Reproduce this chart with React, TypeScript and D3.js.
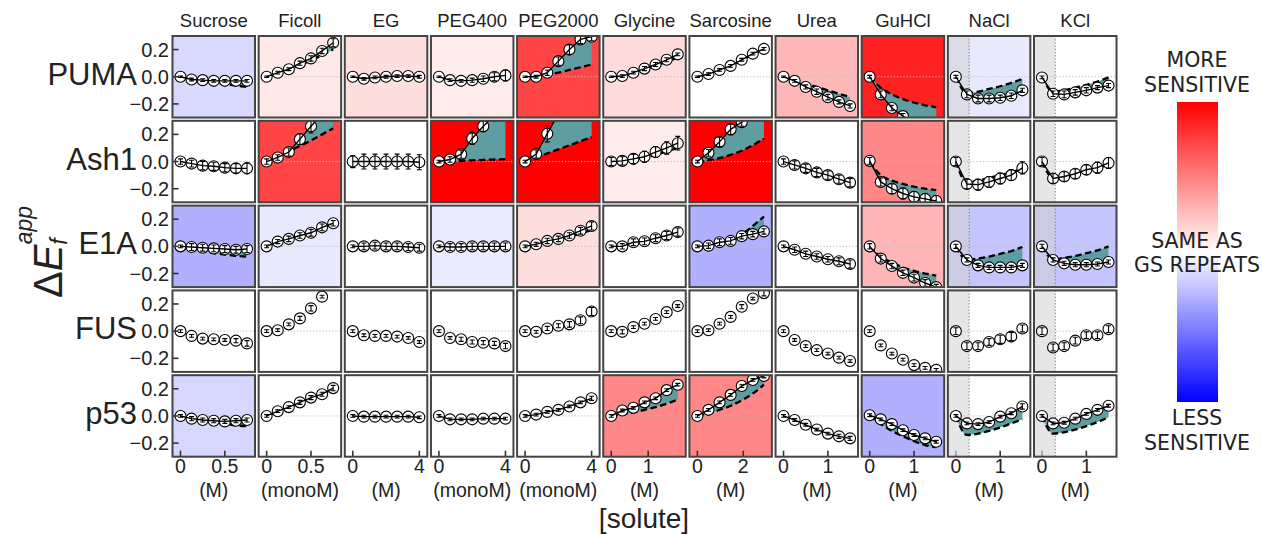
import React from 'react';
import * as d3 from 'd3';

// ---------- categories / ticks ----------
const solutes = ['Sucrose', 'Ficoll', 'EG', 'PEG400', 'PEG2000', 'Glycine', 'Sarcosine', 'Urea', 'GuHCl', 'NaCl', 'KCl'];
const units = ['(M)', '(monoM)', '(M)', '(monoM)', '(monoM)', '(M)', '(M)', '(M)', '(M)', '(M)', '(M)'];
const xMax = [0.75, 0.75, 4, 4, 4, 1.8, 2.9, 1.5, 1.5, 1.5, 1.5];
const xTicks = [[0, 0.5], [0, 0.5], [0, 4], [0, 4], [0, 4], [0, 1], [0, 2], [0, 1], [0, 1], [0, 1], [0, 1]];
const xTickLabels = [['0', '0.5'], ['0', '0.5'], ['0', '4'], ['0', '4'], ['0', '4'], ['0', '1'], ['0', '2'], ['0', '1'], ['0', '1'], ['0', '1'], ['0', '1']];
const proteins = ['PUMA', 'Ash1', 'E1A', 'FUS', 'p53'];
const yTicks = [-0.2, 0, 0.2];
const yTickLabels = ['\u22120.2', '0.0', '0.2'];
const saltCutoff = 0.3;
const saltColumns = ['NaCl', 'KCl'];

// ---------- sensitivity (background colour, bwr -1..1) ----------
const pumaSens = [-0.15, 0.09, 0.13, 0.07, 0.73, 0.14, 0, 0.28, 0.87, -0.09, 0];
const ash1Sens = [0, 0.73, 0, 1, 1, 0.07, 1, 0, 0.47, 0, 0];
const e1aSens = [-0.31, -0.09, 0, -0.08, 0.13, 0, -0.31, 0, 0.29, -0.23, -0.23];
const fusSens = [0, 0, 0, 0, 0, 0, 0, 0, 0, 0, 0];
const p53Sens = [-0.16, 0, 0, 0, 0, 0.47, 0.47, 0, -0.31, 0, 0];

// ---------- observed ΔE ----------
const pumaObs = [
  [0, -0.02, -0.025, -0.03, -0.03, -0.03, -0.03],
  [0, 0.03, 0.055, 0.1, 0.135, 0.19, 0.25],
  [0, -0.015, -0.005, 0, 0.005, 0.005, 0],
  [0, -0.025, -0.03, -0.025, -0.015, 0, 0.01],
  [0, 0, 0.03, 0.115, 0.2, 0.275, 0.295],
  [0, 0.005, 0.03, 0.06, 0.09, 0.125, 0.165],
  [0, 0.02, 0.05, 0.08, 0.125, 0.17, 0.205],
  [0, -0.03, -0.075, -0.11, -0.15, -0.185, -0.215],
  [0, -0.13, -0.23, -0.29, -0.35, -0.4, -0.45],
  [0, -0.13, -0.16, -0.16, -0.155, -0.14, -0.1],
  [-0.005, -0.125, -0.13, -0.115, -0.1, -0.08, -0.065],
];
const ash1Obs = [
  [0, -0.015, -0.03, -0.035, -0.045, -0.05, -0.05],
  [0, 0.03, 0.07, 0.165, 0.26, 0.35, 0.42],
  [0, 0, 0, 0, 0, 0, -0.005],
  [0, 0.015, 0.054, 0.17, 0.26, 0.34, 0.4],
  [0, 0.055, 0.205, 0.35, 0.45, 0.5, 0.55],
  [0, 0.005, 0.02, 0.035, 0.07, 0.1, 0.135],
  [0, 0.064, 0.145, 0.237, 0.29, 0.35, 0.4],
  [0, -0.025, -0.05, -0.08, -0.1, -0.13, -0.155],
  [0.005, -0.15, -0.2, -0.235, -0.26, -0.275, -0.29],
  [0, -0.165, -0.17, -0.15, -0.125, -0.1, -0.047],
  [0, -0.125, -0.11, -0.09, -0.06, -0.045, -0.01],
];
const e1aObs = [
  [0, -0.005, -0.01, -0.015, -0.02, -0.025, -0.02],
  [0, 0.035, 0.055, 0.08, 0.1, 0.14, 0.17],
  [0, 0, 0.005, 0, 0, -0.005, -0.01],
  [0, -0.005, -0.005, 0, 0, 0, 0],
  [0, 0.015, 0.04, 0.055, 0.08, 0.115, 0.15],
  [0, 0, 0.03, 0.037, 0.06, 0.08, 0.105],
  [0, 0.005, 0.03, 0.04, 0.075, 0.09, 0.11],
  [0, -0.025, -0.055, -0.075, -0.095, -0.11, -0.13],
  [0, -0.09, -0.145, -0.195, -0.23, -0.27, -0.3],
  [0, -0.1, -0.14, -0.155, -0.155, -0.155, -0.14],
  [0, -0.1, -0.125, -0.135, -0.135, -0.13, -0.115],
];
const fusObs = [
  [0, -0.035, -0.055, -0.06, -0.065, -0.07, -0.09],
  [0, 0.007, 0.05, 0.094, 0.168, 0.254, 0.36],
  [0, -0.03, -0.035, -0.035, -0.04, -0.05, -0.08],
  [0, -0.05, -0.06, -0.08, -0.085, -0.09, -0.11],
  [0, -0.005, 0.02, 0.04, 0.05, 0.08, 0.145],
  [0, -0.005, 0.03, 0.055, 0.09, 0.14, 0.185],
  [0, 0.007, 0.055, 0.105, 0.18, 0.24, 0.28],
  [0, -0.065, -0.11, -0.14, -0.165, -0.195, -0.22],
  [0, -0.105, -0.165, -0.21, -0.25, -0.27, -0.285],
  [0, -0.11, -0.11, -0.08, -0.06, -0.04, 0.02],
  [0, -0.12, -0.11, -0.07, -0.03, -0.03, 0.015],
];
const p53Obs = [
  [0, -0.02, -0.03, -0.035, -0.04, -0.035, -0.03],
  [0, 0.035, 0.065, 0.1, 0.135, 0.16, 0.205],
  [0, -0.005, -0.005, -0.005, -0.005, -0.005, -0.01],
  [0, -0.025, -0.025, -0.025, -0.02, -0.02, -0.02],
  [0, 0.01, 0.03, 0.045, 0.07, 0.1, 0.13],
  [0, 0.04, 0.06, 0.1, 0.13, 0.19, 0.23],
  [0, 0.045, 0.1, 0.155, 0.22, 0.265, 0.295],
  [0, -0.03, -0.065, -0.1, -0.13, -0.15, -0.165],
  [0.005, -0.025, -0.06, -0.105, -0.14, -0.165, -0.19],
  [0, -0.055, -0.06, -0.045, -0.005, 0.02, 0.07],
  [0, -0.055, -0.05, -0.02, 0.015, 0.045, 0.075],
];

// ---------- reference (GS repeats, dashed) ----------
const pumaRef = [
  [0, -0.015, -0.03, -0.045, -0.055, -0.065, -0.075],
  [0, 0.025, 0.05, 0.085, 0.12, 0.16, 0.2],
  [0, -0.005, -0.005, 0, 0, -0.005, -0.01],
  [0, -0.02, -0.025, -0.02, -0.01, 0, 0.005],
  [0, 0.005, 0.015, 0.03, 0.05, 0.07, 0.09],
  [0, 0.01, 0.025, 0.05, 0.08, 0.11, 0.14],
  [0, 0.02, 0.05, 0.08, 0.12, 0.165, 0.2],
  [0, -0.025, -0.05, -0.075, -0.1, -0.125, -0.15],
  [0, -0.08, -0.13, -0.165, -0.19, -0.21, -0.225],
  [0, -0.12, -0.11, -0.09, -0.07, -0.045, -0.015],
  [0, -0.11, -0.1, -0.08, -0.06, -0.035, -0.005],
];
const ash1Ref = [
  [0, -0.015, -0.025, -0.035, -0.045, -0.05, -0.055],
  [0, 0.035, 0.075, 0.115, 0.155, 0.2, 0.245],
  [0, 0, 0, 0, 0, 0, 0],
  [0, 0.003, 0.006, 0.009, 0.012, 0.015, 0.018],
  [0, 0.03, 0.06, 0.09, 0.12, 0.15, 0.18],
  [0, 0.005, 0.015, 0.03, 0.05, 0.075, 0.1],
  [0, 0.01, 0.025, 0.05, 0.08, 0.12, 0.17],
  [0, -0.025, -0.05, -0.075, -0.1, -0.125, -0.15],
  [0, -0.1, -0.14, -0.165, -0.185, -0.2, -0.21],
  [0, -0.155, -0.14, -0.12, -0.1, -0.08, -0.05],
  [0, -0.12, -0.1, -0.085, -0.065, -0.045, -0.025],
];
const e1aRef = [
  [0, -0.02, -0.035, -0.05, -0.06, -0.07, -0.075],
  [0, 0.03, 0.05, 0.075, 0.1, 0.135, 0.165],
  [0, 0, 0.005, 0, 0, -0.005, -0.01],
  [0, -0.005, -0.005, 0, 0, 0, 0],
  [0, 0.012, 0.03, 0.05, 0.07, 0.095, 0.12],
  [0, 0.01, 0.025, 0.04, 0.06, 0.08, 0.1],
  [0, 0.01, 0.025, 0.05, 0.09, 0.15, 0.22],
  [0, -0.025, -0.05, -0.075, -0.095, -0.115, -0.13],
  [0, -0.075, -0.12, -0.155, -0.18, -0.2, -0.215],
  [0, -0.1, -0.09, -0.075, -0.055, -0.035, -0.005],
  [0, -0.095, -0.085, -0.07, -0.05, -0.03, 0],
];
const p53Ref = [
  [0, -0.02, -0.035, -0.05, -0.06, -0.07, -0.075],
  [0, 0.03, 0.06, 0.095, 0.13, 0.16, 0.2],
  [0, -0.005, -0.005, -0.005, -0.005, -0.005, -0.01],
  [0, -0.02, -0.025, -0.025, -0.02, -0.02, -0.02],
  [0, 0.01, 0.025, 0.045, 0.065, 0.09, 0.12],
  [0, 0.01, 0.025, 0.045, 0.065, 0.09, 0.12],
  [0, 0.02, 0.045, 0.075, 0.115, 0.165, 0.23],
  [0, -0.03, -0.065, -0.1, -0.125, -0.145, -0.16],
  [0, -0.06, -0.11, -0.15, -0.185, -0.215, -0.23],
  [0, -0.14, -0.13, -0.11, -0.085, -0.055, -0.025],
  [0, -0.13, -0.12, -0.1, -0.075, -0.045, -0.01],
];

// ---------- error bars (half widths) ----------
const pumaErr = [
  [0.005, 0.01, 0.01, 0.01, 0.01, 0.01, 0.01],
  [0.005, 0.01, 0.01, 0.015, 0.02, 0.02, 0.03],
  [0.005, 0.01, 0.01, 0.01, 0.01, 0.01, 0.01],
  [0.005, 0.01, 0.01, 0.015, 0.02, 0.03, 0.04],
  [0.005, 0.01, 0.02, 0.03, 0.035, 0.03, 0.03],
  [0.005, 0.01, 0.01, 0.015, 0.015, 0.015, 0.01],
  [0.005, 0.01, 0.01, 0.01, 0.01, 0.01, 0.01],
  [0.005, 0.01, 0.015, 0.02, 0.02, 0.015, 0.015],
  [0.01, 0.025, 0.02, 0.02, 0.02, 0.02, 0.02],
  [0.01, 0.025, 0.025, 0.025, 0.02, 0.02, 0.015],
  [0.01, 0.02, 0.025, 0.02, 0.02, 0.015, 0.015],
];
const ash1Err = [
  [0.02, 0.025, 0.03, 0.03, 0.03, 0.035, 0.04],
  [0.02, 0.02, 0.03, 0.04, 0.05, 0.05, 0.05],
  [0.045, 0.055, 0.055, 0.055, 0.055, 0.055, 0.055],
  [0.01, 0.02, 0.03, 0.045, 0.04, 0.04, 0.04],
  [0.01, 0.03, 0.06, 0.05, 0.05, 0.05, 0.05],
  [0.03, 0.03, 0.035, 0.04, 0.04, 0.045, 0.05],
  [0.01, 0.025, 0.035, 0.04, 0.03, 0.03, 0.03],
  [0.02, 0.03, 0.03, 0.03, 0.03, 0.03, 0.03],
  [0.025, 0.03, 0.035, 0.04, 0.04, 0.04, 0.04],
  [0.03, 0.035, 0.04, 0.04, 0.04, 0.04, 0.045],
  [0.03, 0.035, 0.035, 0.035, 0.035, 0.04, 0.04],
];
const e1aErr = [
  [0.01, 0.025, 0.025, 0.025, 0.025, 0.025, 0.025],
  [0.01, 0.015, 0.02, 0.02, 0.025, 0.025, 0.02],
  [0.01, 0.025, 0.025, 0.025, 0.025, 0.025, 0.025],
  [0.01, 0.025, 0.025, 0.025, 0.025, 0.025, 0.025],
  [0.01, 0.015, 0.02, 0.02, 0.02, 0.025, 0.03],
  [0.01, 0.02, 0.025, 0.025, 0.025, 0.03, 0.03],
  [0.01, 0.02, 0.025, 0.025, 0.02, 0.02, 0.02],
  [0.01, 0.02, 0.02, 0.02, 0.02, 0.025, 0.03],
  [0.02, 0.025, 0.02, 0.02, 0.025, 0.025, 0.02],
  [0.015, 0.015, 0.015, 0.015, 0.015, 0.015, 0.015],
  [0.015, 0.015, 0.015, 0.015, 0.015, 0.015, 0.015],
];
const fusErr = [
  [0.01, 0.01, 0.01, 0.01, 0.01, 0.015, 0.02],
  [0.01, 0.01, 0.01, 0.015, 0.02, 0.01, 0.01],
  [0.01, 0.01, 0.01, 0.01, 0.01, 0.01, 0.01],
  [0.01, 0.01, 0.015, 0.015, 0.015, 0.015, 0.02],
  [0.01, 0.01, 0.015, 0.015, 0.02, 0.025, 0.03],
  [0.01, 0.015, 0.01, 0.01, 0.01, 0.01, 0.01],
  [0.01, 0.01, 0.01, 0.01, 0.015, 0.01, 0.02],
  [0.01, 0.01, 0.01, 0.01, 0.01, 0.01, 0.01],
  [0.01, 0.01, 0.01, 0.01, 0.01, 0.01, 0.01],
  [0.025, 0.025, 0.025, 0.025, 0.03, 0.03, 0.025],
  [0.025, 0.025, 0.025, 0.025, 0.025, 0.025, 0.025],
];
const p53Err = [
  [0.01, 0.015, 0.015, 0.015, 0.015, 0.015, 0.015],
  [0.01, 0.01, 0.01, 0.015, 0.015, 0.015, 0.02],
  [0.01, 0.01, 0.01, 0.01, 0.01, 0.01, 0.01],
  [0.01, 0.01, 0.01, 0.01, 0.01, 0.01, 0.01],
  [0.01, 0.01, 0.01, 0.01, 0.01, 0.01, 0.015],
  [0.01, 0.01, 0.01, 0.01, 0.01, 0.01, 0.01],
  [0.01, 0.01, 0.01, 0.01, 0.01, 0.01, 0.015],
  [0.01, 0.01, 0.01, 0.01, 0.01, 0.015, 0.015],
  [0.01, 0.01, 0.01, 0.01, 0.01, 0.01, 0.01],
  [0.01, 0.01, 0.01, 0.01, 0.01, 0.01, 0.02],
  [0.01, 0.01, 0.01, 0.01, 0.01, 0.01, 0.01],
];

const sensRows = [pumaSens, ash1Sens, e1aSens, fusSens, p53Sens];
const obsRows = [pumaObs, ash1Obs, e1aObs, fusObs, p53Obs];
const refRows: (number[][] | null)[] = [pumaRef, ash1Ref, e1aRef, null, p53Ref];
const errRows = [pumaErr, ash1Err, e1aErr, fusErr, p53Err];

// ---------- layout ----------
const W = 1262;
const H = 535;
const COL0 = 172.5;
const COLSTEP = 86.15;
const PW = 82.5;
const ROW0 = 36;
const ROWSTEP = 84.8;
const PH = 81.5;
const FONT = "'Liberation Sans', Arial, sans-serif";
const TEAL = '#5f9ea0';

const bwr = (v: number) =>
  v >= 0 ? d3.interpolateRgb('#ffffff', '#ff0000')(v) : d3.interpolateRgb('#ffffff', '#0000ff')(-v);

function Panel({ r, c }: { r: number; c: number }) {
  const x0 = COL0 + c * COLSTEP;
  const y0 = ROW0 + r * ROWSTEP;
  const xm = xMax[c];
  const xs = d3.scaleLinear().domain([-0.12 * xm, 1.12 * xm]).range([x0, x0 + PW]);
  const ys = d3.scaleLinear().domain([-0.3, 0.3]).range([y0 + PH, y0]);
  const xv = d3.range(7).map((i) => (i * xm) / 6);
  const obs = obsRows[r][c];
  const refSet = refRows[r];
  const ref = refSet ? refSet[c] : null;
  const err = errRows[r][c];
  const isSalt = saltColumns.includes(solutes[c]);
  const clipId = `clip-${r}-${c}`;

  const obsLine = d3
    .line<number>()
    .x((_, i) => xs(xv[i]))
    .y((d) => ys(d))(obs) as string;
  const refLine = ref
    ? (d3
        .line<number>()
        .x((_, i) => xs(xv[i]))
        .y((d) => ys(d))
        .curve(d3.curveMonotoneX)(ref) as string)
    : null;
  const fill = ref
    ? (d3
        .area<number>()
        .x((_, i) => xs(xv[i]))
        .y0((_, i) => ys(ref[i]))
        .y1((d) => ys(d))
        .curve(d3.curveMonotoneX)(obs) as string)
    : null;

  return (
    <g>
      <defs>
        <clipPath id={clipId}>
          <rect x={x0} y={y0} width={PW} height={PH} />
        </clipPath>
      </defs>
      <g clipPath={`url(#${clipId})`}>
        <rect x={x0} y={y0} width={PW} height={PH} fill={bwr(sensRows[r][c])} />
        {isSalt && (
          <rect
            x={x0}
            y={y0}
            width={xs(saltCutoff) - x0}
            height={PH}
            fill="#d2d2d2"
            fillOpacity={0.55}
          />
        )}
        <line x1={x0} x2={x0 + PW} y1={ys(0)} y2={ys(0)} stroke="#bdbdbd" strokeWidth={1} strokeDasharray="1.2,2" />
        {isSalt && (
          <line
            x1={xs(saltCutoff)}
            x2={xs(saltCutoff)}
            y1={y0}
            y2={y0 + PH}
            stroke="#777"
            strokeWidth={1}
            strokeDasharray="1.2,2"
          />
        )}
        {fill && <path d={fill} fill={TEAL} />}
        {refLine && (
          <path d={refLine} fill="none" stroke="#000" strokeWidth={2.3} strokeDasharray="6.5,3.5" />
        )}
        {obs.map((v, i) => (
          <circle key={i} cx={xs(xv[i])} cy={ys(v)} r={5.5} fill="#fff" stroke="#000" strokeWidth={1.1} />
        ))}
        {ref && <path d={obsLine} fill="none" stroke="#000" strokeWidth={1.4} />}
        {obs.map((v, i) => {
          const cx = xs(xv[i]);
          const a = ys(v - err[i]);
          const b = ys(v + err[i]);
          return (
            <g key={'e' + i} stroke="#000" strokeWidth={1.1}>
              <line x1={cx} x2={cx} y1={a} y2={b} />
              <line x1={cx - 2.5} x2={cx + 2.5} y1={a} y2={a} />
              <line x1={cx - 2.5} x2={cx + 2.5} y1={b} y2={b} />
            </g>
          );
        })}
      </g>
      {c === 0 &&
        yTicks.map((t) => (
          <line key={'yt' + t} x1={x0} x2={x0 + 6} y1={ys(t)} y2={ys(t)} stroke="#333" strokeWidth={1.6} />
        ))}
      {r === proteins.length - 1 &&
        xTicks[c].map((t) => (
          <line
            key={'xt' + t}
            x1={xs(t)}
            x2={xs(t)}
            y1={y0 + PH}
            y2={y0 + PH - 6}
            stroke={isSalt && t < saltCutoff ? '#999' : '#333'}
            strokeWidth={1.6}
          />
        ))}
      <rect x={x0} y={y0} width={PW} height={PH} fill="none" stroke="#444" strokeWidth={2} />
    </g>
  );
}

export default function App() {
  const cbX = 1177;
  const cbY = 102;
  const cbW = 41;
  const cbH = 300;
  const cbCx = 1197;
  return (
    <svg
      width={W}
      height={H}
      viewBox={`0 0 ${W} ${H}`}
      style={{ position: 'absolute', left: 0, top: 0, background: '#fff' }}
      fontFamily={FONT}
    >
      <defs>
        <linearGradient id="bwr" x1="0" y1="0" x2="0" y2="1">
          {d3.range(0, 1.0001, 0.05).map((t) => (
            <stop key={t} offset={`${t * 100}%`} stopColor={bwr(1 - 2 * t)} />
          ))}
        </linearGradient>
      </defs>
      <rect x={0} y={0} width={W} height={H} fill="#fff" />

      {proteins.map((p, r) => solutes.map((s, c) => <Panel key={p + s} r={r} c={c} />))}

      {/* column titles */}
      {solutes.map((s, c) => (
        <text key={s} x={COL0 + c * COLSTEP + PW / 2} y={27} textAnchor="middle" fontSize={18.5} fill="#222">
          {s}
        </text>
      ))}

      {/* row labels + y tick labels */}
      {proteins.map((p, r) => {
        const y0 = ROW0 + r * ROWSTEP;
        const ys = d3.scaleLinear().domain([-0.3, 0.3]).range([y0 + PH, y0]);
        return (
          <g key={p}>
            <text x={137} y={ys(0) + 8} textAnchor="end" fontSize={31} fill="#222">
              {p}
            </text>
            {yTicks.map((t, i) => (
              <text key={t} x={169} y={ys(t) + 7} textAnchor="end" fontSize={20} fill="#222">
                {yTickLabels[i]}
              </text>
            ))}
          </g>
        );
      })}

      {/* x tick labels and units */}
      {solutes.map((s, c) => {
        const x0 = COL0 + c * COLSTEP;
        const xm = xMax[c];
        const xs = d3.scaleLinear().domain([-0.12 * xm, 1.12 * xm]).range([x0, x0 + PW]);
        return (
          <g key={'xl' + s}>
            {xTicks[c].map((t, i) => (
              <text key={t} x={xs(t)} y={473} textAnchor="middle" fontSize={19.5} fill="#222">
                {xTickLabels[c][i]}
              </text>
            ))}
            <text x={x0 + PW / 2} y={497} textAnchor="middle" fontSize={19.5} fill="#222">
              {units[c]}
            </text>
          </g>
        );
      })}

      {/* axis titles */}
      <text x={644} y={528} textAnchor="middle" fontSize={28} fill="#222">
        [solute]
      </text>
      <text transform="translate(62,252) rotate(-90)" textAnchor="middle" fontSize={40} fill="#222">
        Δ<tspan fontStyle="italic">E</tspan>
        <tspan fontStyle="italic" fontSize={23} dy={5}>
          f
        </tspan>
        <tspan fontStyle="italic" fontSize={23} dx={-6} dy={-35}>
          app
        </tspan>
      </text>

      {/* colour bar */}
      <rect x={cbX} y={cbY} width={cbW} height={cbH} fill="url(#bwr)" />
      <g fontFamily="'DejaVu Sans', Verdana, sans-serif" fontSize={20.5} fill="#222" textAnchor="middle">
        <text x={cbCx} y={67}>MORE</text>
        <text x={cbCx} y={92}>SENSITIVE</text>
        <text x={cbCx} y={248}>SAME AS</text>
        <text x={cbCx} y={272}>GS REPEATS</text>
        <text x={cbCx} y={425}>LESS</text>
        <text x={cbCx} y={450}>SENSITIVE</text>
      </g>
    </svg>
  );
}
